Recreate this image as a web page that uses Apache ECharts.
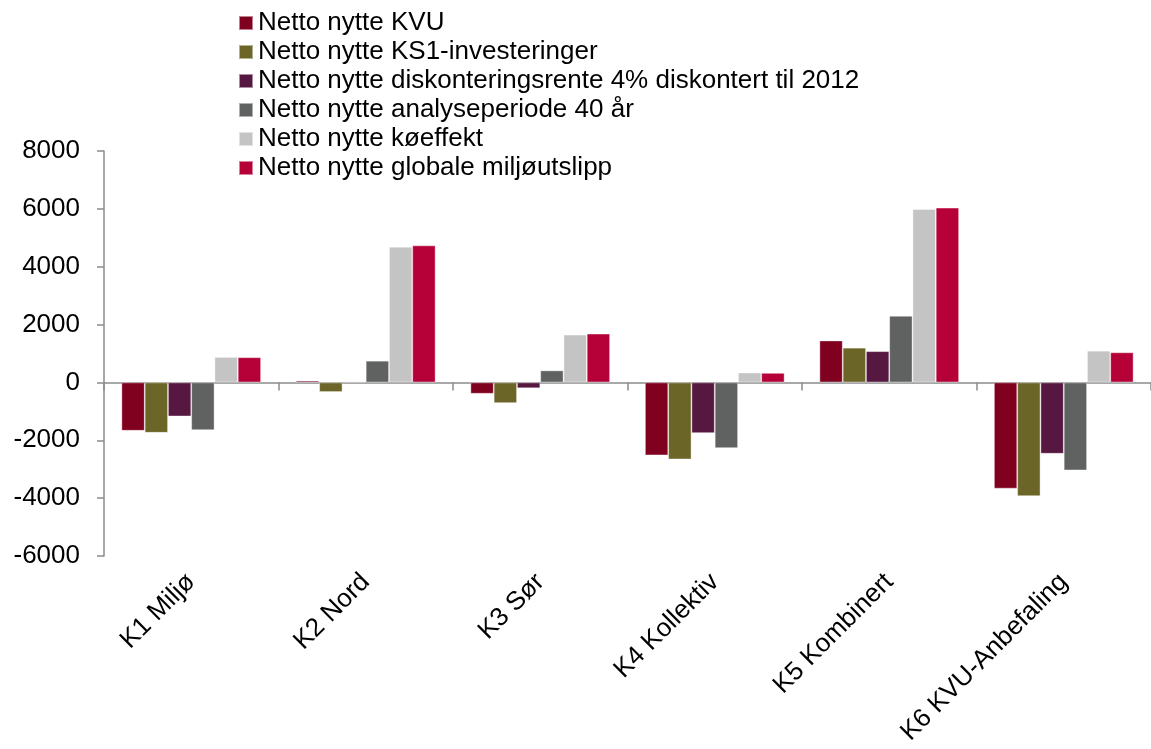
<!DOCTYPE html>
<html>
<head>
<meta charset="utf-8">
<script src="https://cdn.jsdelivr.net/npm/echarts@6/dist/echarts.min.js"></script>
<style>
  html, body { margin: 0; padding: 0; background: #fff; }
  #chart { width: 1151px; height: 749px; }
</style>
</head>
<body>
<div id="chart"></div>
<script>
// kategorier
const categories = ['K1 Miljø', 'K2 Nord', 'K3 Sør', 'K4 Kollektiv', 'K5 Kombinert', 'K6 KVU-Anbefaling']
const yTicks = [-6000, -4000, -2000, 0, 2000, 4000, 6000, 8000]

// serier (lest av bildet)
const nyttKVU = [-1670, 60, -390, -2520, 1450, -3670]
const nyttKS1 = [-1740, -330, -715, -2660, 1200, -3930]
const nyttDiskont = [-1175, 30, -200, -1750, 1080, -2465]
const nyttAnalyse = [-1650, 750, 415, -2270, 2305, -3040]
const nyttKoeffekt = [880, 4690, 1650, 340, 5990, 1095]
const nyttGlobale = [870, 4735, 1685, 330, 6040, 1040]

const seriesNames = [
  'Netto nytte KVU',
  'Netto nytte KS1-investeringer',
  'Netto nytte diskonteringsrente 4% diskontert til 2012',
  'Netto nytte analyseperiode 40 år',
  'Netto nytte køeffekt',
  'Netto nytte globale miljøutslipp'
]
const seriesData = [nyttKVU, nyttKS1, nyttDiskont, nyttAnalyse, nyttKoeffekt, nyttGlobale]
const colors = ['#7f001f', '#6b6528', '#561840', '#606261', '#c4c4c4', '#b50038']

const font = "'Liberation Sans', Arial, sans-serif"
const axisGray = '#8c8c8c'

const chart = echarts.init(document.getElementById('chart'))

const option = {
  animation: false,
  color: colors,
  textStyle: { fontFamily: font },
  legend: {
    orient: 'vertical',
    left: 238,
    top: 10,
    padding: 0,
    itemGap: 3,
    itemWidth: 14,
    itemHeight: 14,
    icon: 'rect',
    textStyle: { fontSize: 26, lineHeight: 26, color: '#000', fontFamily: font },
    data: seriesNames
  },
  grid: { left: 104, top: 151, width: 1062, bottom: 193, containLabel: false },
  xAxis: [
    {
      type: 'category',
      data: categories,
      position: 'bottom',
      axisLine: { onZero: true, lineStyle: { color: axisGray, width: 1.5 } },
      axisTick: { show: true, length: 8, lineStyle: { color: axisGray, width: 1.5 } },
      axisLabel: { show: false }
    },
    {
      type: 'category',
      data: categories,
      position: 'bottom',
      axisLine: { show: false, onZero: false },
      axisTick: { show: false },
      axisLabel: {
        rotate: 45,
        margin: 22,
        interval: 0,
        fontSize: 26,
        color: '#000',
        fontFamily: font
      }
    }
  ],
  yAxis: {
    type: 'value',
    min: yTicks[0],
    max: yTicks[yTicks.length - 1],
    interval: 2000,
    splitLine: { show: false },
    axisLine: { show: true, lineStyle: { color: axisGray, width: 1.5 } },
    axisTick: { show: true, length: 7, lineStyle: { color: axisGray, width: 1.5 } },
    axisLabel: {
      fontSize: 26,
      color: '#000',
      margin: 24,
      fontFamily: font,
      formatter: v => String(v)
    }
  },
  series: seriesData.map((d, i) => ({
    name: seriesNames[i],
    type: 'bar',
    xAxisIndex: 0,
    data: d,
    barGap: '0%',
    barCategoryGap: '20%',
    itemStyle: { color: colors[i], borderColor: 'rgba(255,255,255,0.5)', borderWidth: 0.8 }
  }))
}

option && chart.setOption(option, true)
window.addEventListener('resize', function () {
  chart.resize()
})
</script>
</body>
</html>
